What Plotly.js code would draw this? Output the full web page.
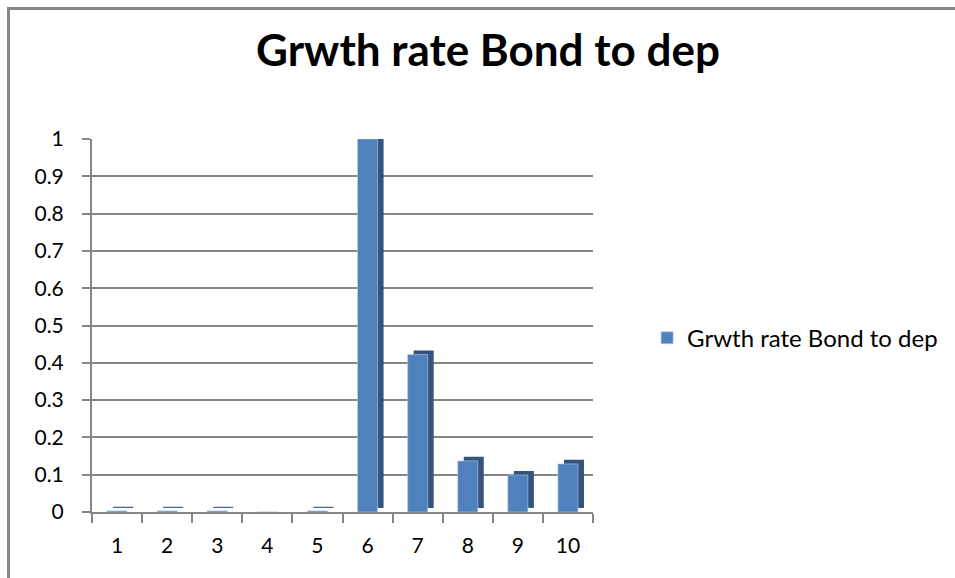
<!DOCTYPE html>
<html>
<head>
<meta charset="utf-8">
<script src="https://cdn.plot.ly/plotly-3.0.1.min.js"></script>
<style>
  html, body { margin: 0; padding: 0; background: #ffffff; }
  #wrap { position: relative; width: 955px; height: 578px; overflow: hidden; }
  #chart { width: 955px; height: 578px; }
  #frame { position: absolute; left: 7px; top: 7px; width: 960px; height: 580px;
           border-left: 3px solid #868686; border-top: 3px solid #868686; pointer-events: none; }
</style>
</head>
<body>
<div id="wrap">
  <div id="chart"></div>
  <div id="frame"></div>
</div>
<script>
// ---- data ----
const categories = ["1", "2", "3", "4", "5", "6", "7", "8", "9", "10"];
const seriesName = "Grwth rate Bond to dep";
const values = [0.003, 0.003, 0.003, 0, 0.003, 1.0, 0.422, 0.137, 0.099, 0.129];
const yTickVals = [0, 0.1, 0.2, 0.3, 0.4, 0.5, 0.6, 0.7, 0.8, 0.9, 1];
const yTickText = ["0", "0.1", "0.2", "0.3", "0.4", "0.5", "0.6", "0.7", "0.8", "0.9", "1"];

// ---- styling ----
const FONT = "Lato, 'Open Sans', sans-serif";
const depthY = 0.011;   // visual depth of the pseudo-3D side face (data units)

const sideTrace = {
  type: "bar",
  x: categories,
  y: values,
  base: values.map(() => depthY),
  width: 0.4,
  offset: -0.2 + 0.12,
  marker: { color: "#34547F", line: { width: 0 } },
  showlegend: false,
  hoverinfo: "skip"
};

const frontTrace = {
  type: "bar",
  name: seriesName,
  x: categories,
  y: values,
  width: 0.4,
  offset: -0.2,
  marker: { color: "#4F81BD", line: { color: "#B9CDE5", width: 0.6 } },
  showlegend: true
};

const layout = {
  width: 955,
  height: 578,
  paper_bgcolor: "#ffffff",
  plot_bgcolor: "#ffffff",
  margin: { l: 92, r: 362, t: 139, b: 66, autoexpand: false },
  barmode: "overlay",
  font: { family: FONT, color: "#000000", size: 21 },
  title: {
    text: "<b>Grwth rate Bond to dep</b>",
    font: { family: FONT, size: 44, color: "#000000" },
    x: 0.511, xanchor: "center",
    y: 0.913, yanchor: "middle"
  },
  xaxis: {
    type: "category",
    categoryorder: "array",
    categoryarray: categories,
    range: [-0.5, 9.5],
    showgrid: false,
    zeroline: false,
    showline: true,
    linecolor: "#868686",
    linewidth: 2,
    ticks: "outside",
    tickson: "boundaries",
    ticklen: 9,
    tickwidth: 2,
    tickcolor: "#868686",
    ticklabelstandoff: 14,
    tickfont: { family: FONT, size: 21, color: "#000000" },
    fixedrange: true
  },
  yaxis: {
    range: [0, 1],
    tickmode: "array",
    tickvals: yTickVals,
    ticktext: yTickText,
    showgrid: true,
    gridcolor: "#868686",
    gridwidth: 2,
    zeroline: false,
    showline: true,
    linecolor: "#868686",
    linewidth: 2,
    ticks: "outside",
    ticklen: 8,
    tickwidth: 2,
    tickcolor: "#868686",
    ticklabelstandoff: 14,
    tickfont: { family: FONT, size: 21, color: "#000000" },
    fixedrange: true
  },
  legend: {
    x: 1.108, xanchor: "left",
    y: 0.466, yanchor: "middle",
    bgcolor: "rgba(0,0,0,0)",
    font: { family: FONT, size: 24, color: "#000000" },
    itemwidth: 30
  },
  showlegend: true
};

Plotly.newPlot("chart", [sideTrace, frontTrace], layout, { displayModeBar: false, staticPlot: true });
</script>
</body>
</html>
